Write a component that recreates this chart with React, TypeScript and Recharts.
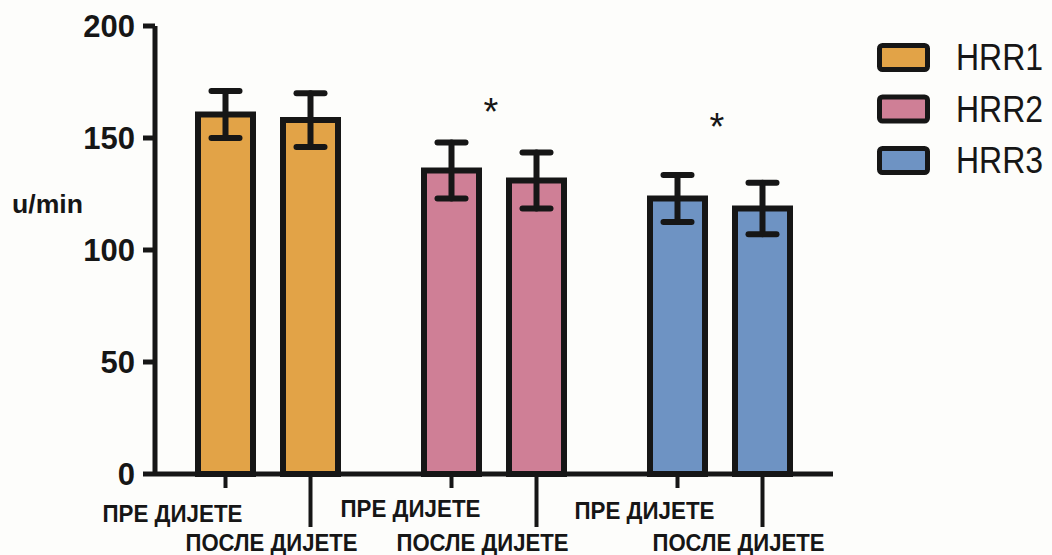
import React from 'react';
import {
  BarChart,
  Bar,
  XAxis,
  YAxis,
  ErrorBar,
  Cell,
  ReferenceDot,
  Customized,
} from 'recharts';

// ---- data ----
const groups = ['HRR1', 'HRR2', 'HRR3'];
const preMean = [160.5, 135.5, 123];
const preErr = [10.5, 12.5, 10.5];
const postMean = [158, 131, 118.5];
const postErr = [12, 12.5, 11.5];
const preLabel = 'ПРЕ ДИЈЕТЕ';
const postLabel = 'ПОСЛЕ ДИЈЕТЕ';
const significant = [false, true, true];
const starLevel = [0, 165.5, 159];
const yTicks = [0, 50, 100, 150, 200];
const yTitle = 'u/min';

// ---- style ----
const FONT = '"Liberation Sans", Arial, sans-serif';
const INK = '#161616';
const BG = '#fdfdfb';
const fills = ['#e2a347', '#cf7f96', '#6e93c3'];
const BAR_SIZE = 55;
const BAR_GAP = 30;
const preDx = [-53, -41, -33];
const preDy = [48, 43, 45];
const postDx = [-39, -54, -24];
const POST_DY = 77;

const chartData = groups.map((g, i) => ({
  group: g,
  pre: preMean[i],
  preErr: preErr[i],
  post: postMean[i],
  postErr: postErr[i],
}));

// Two labels per group, one under each bar, with their tick marks
const GroupTick = (props: any) => {
  const { x, y } = props;
  const i = props.index ?? props.payload?.index ?? 0;
  const half = (BAR_SIZE + BAR_GAP) / 2;
  const preX = x - half;
  const postX = x + half;
  return (
    <g>
      <line x1={preX} x2={preX} y1={y} y2={y + 14} stroke={INK} strokeWidth={4} />
      <line x1={postX} x2={postX} y1={y} y2={y + 53} stroke={INK} strokeWidth={4} />
      <text
        x={preX + preDx[i]}
        y={y + preDy[i]}
        textAnchor="middle"
        fontSize={23}
        fontWeight={700}
        fill={INK}
        textLength={140}
        lengthAdjust="spacingAndGlyphs"
      >
        {preLabel}
      </text>
      <text
        x={postX + postDx[i]}
        y={y + POST_DY}
        textAnchor="middle"
        fontSize={23}
        fontWeight={700}
        fill={INK}
        textLength={172}
        lengthAdjust="spacingAndGlyphs"
      >
        {postLabel}
      </text>
    </g>
  );
};

const Star = (props: any) => {
  const { cx, cy } = props;
  const fs = 38;
  return (
    <text x={cx - 3} y={cy + fs * 0.58} textAnchor="middle" fontSize={fs} fill={INK}>
      *
    </text>
  );
};

// Y-axis title and the group legend on the right
const Extras = () => (
  <g>
    <text x={12} y={213} fontSize={25} fontWeight={700} fill={INK} textLength={71} lengthAdjust="spacingAndGlyphs">
      {yTitle}
    </text>
    {groups.map((g, i) => {
      const top = 43 + i * 51.5;
      return (
        <g key={g}>
          <rect x={879.5} y={top + 2.5} width={48} height={24} rx={3} fill={fills[i]} stroke={INK} strokeWidth={5} />
          <text
            transform={`translate(956, ${top + 27}) scale(1, 1.15)`}
            x={0}
            y={0}
            fontSize={32}
            fill={INK}
          >
            {g}
          </text>
        </g>
      );
    })}
  </g>
);

export default function App() {
  return (
    <div
      style={{
        position: 'absolute',
        left: 0,
        top: 0,
        width: 1052,
        height: 555,
        background: BG,
        fontFamily: FONT,
      }}
    >
      <BarChart
        width={1052}
        height={555}
        data={chartData}
        margin={{ top: 26, right: 219, bottom: 51, left: 0 }}
        barSize={BAR_SIZE}
        barGap={BAR_GAP}
      >
        <XAxis
          dataKey="group"
          height={30}
          interval={0}
          tickLine={false}
          tickSize={0}
          tickMargin={0}
          axisLine={{ stroke: INK, strokeWidth: 5 }}
          tick={<GroupTick />}
        />
        <YAxis
          width={155}
          domain={[0, 200]}
          ticks={yTicks}
          interval={0}
          tickSize={12}
          tickMargin={8}
          axisLine={{ stroke: INK, strokeWidth: 5 }}
          tickLine={{ stroke: INK, strokeWidth: 5 }}
          tick={{ fontSize: 31, fontWeight: 700, fill: INK }}
        />
        <Bar dataKey="pre" stroke={INK} strokeWidth={6} isAnimationActive={false}>
          {chartData.map((d, i) => (
            <Cell key={d.group} fill={fills[i]} />
          ))}
          <ErrorBar
            dataKey="preErr"
            width={14}
            stroke={INK}
            strokeWidth={6}
            strokeLinecap="round"
            isAnimationActive={false}
          />
        </Bar>
        <Bar dataKey="post" stroke={INK} strokeWidth={6} isAnimationActive={false}>
          {chartData.map((d, i) => (
            <Cell key={d.group} fill={fills[i]} />
          ))}
          <ErrorBar
            dataKey="postErr"
            width={14}
            stroke={INK}
            strokeWidth={6}
            strokeLinecap="round"
            isAnimationActive={false}
          />
        </Bar>
        {groups.map((g, i) =>
          significant[i] ? (
            <ReferenceDot key={g} x={g} y={starLevel[i]} r={0} ifOverflow="visible" shape={(p: any) => <Star {...p} />} />
          ) : null
        )}
        <Customized component={Extras} />
      </BarChart>
    </div>
  );
}
